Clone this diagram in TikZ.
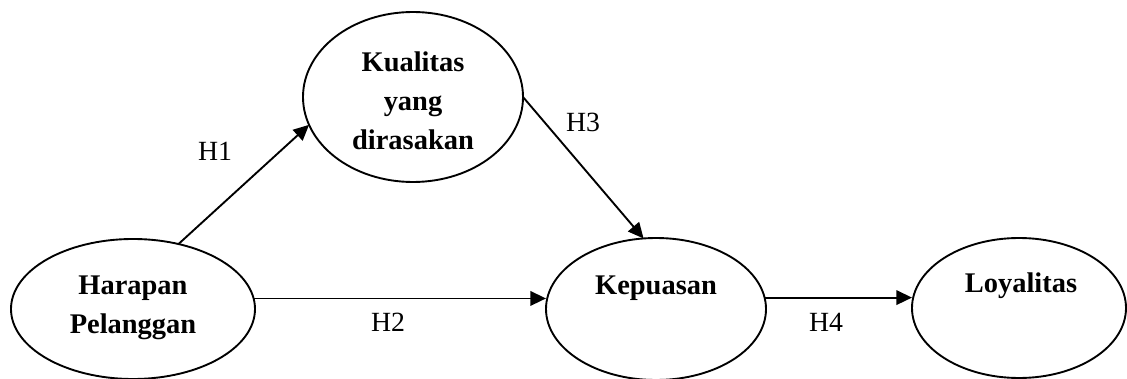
\documentclass[tikz,border=0pt]{standalone}
\usepackage{fontspec}
\setmainfont{Liberation Serif}
\usetikzlibrary{arrows.meta,shapes.geometric}
\begin{document}
\begin{tikzpicture}[x=0.45pt,y=-0.45pt,
  oval/.style={draw,ellipse,line width=0.85pt,inner sep=0pt,outer sep=0pt},
  lbl/.style={font=\bfseries\fontsize{12.8}{17.5}\selectfont,align=center,inner sep=0pt},
  hyp/.style={font=\fontsize{12.5}{14}\selectfont,inner sep=0pt},
  arr/.style={line width=0.85pt,-{Triangle[length=7pt,width=6.5pt]}}]
\useasboundingbox (0,0) rectangle (1127,379);
% ellipses
\node[oval,minimum width=109.8pt,minimum height=63pt] (har) at (133,309) {};
\node[oval,minimum width=99pt,minimum height=76.5pt] (kual) at (413,97) {};
\node[oval,minimum width=99pt,minimum height=63.9pt] (kep) at (656,309) {};
\node[oval,minimum width=96.3pt,minimum height=63pt] (loy) at (1019,308) {};
% texts
\node[lbl] (tHar) at (133,308) {Harapan\\Pelanggan};
\node[lbl] (tKual) at (413,101) {Kualitas\\yang\\dirasakan};
\node[lbl,anchor=base] (tKep) at (656,294) {Kepuasan};
\node[lbl,anchor=base] (tLoy) at (1021,293) {Loyalitas};
% connectors
\draw[arr] (har.55) -- (kual.195);
\draw[arr] (har.5) -- (har.5 -| kep.west);
\draw[arr] (kual.east) -- (kep.100);
\draw[arr] (kep.6) -- (kep.6 -| loy.west);
% hypothesis labels
\node[hyp] (h1) at (215,151) {H1};
\node[hyp] (h2) at (388,322) {H2};
\node[hyp] (h3) at (583,122) {H3};
\node[hyp] (h4) at (826,322) {H4};
\end{tikzpicture}
\end{document}
